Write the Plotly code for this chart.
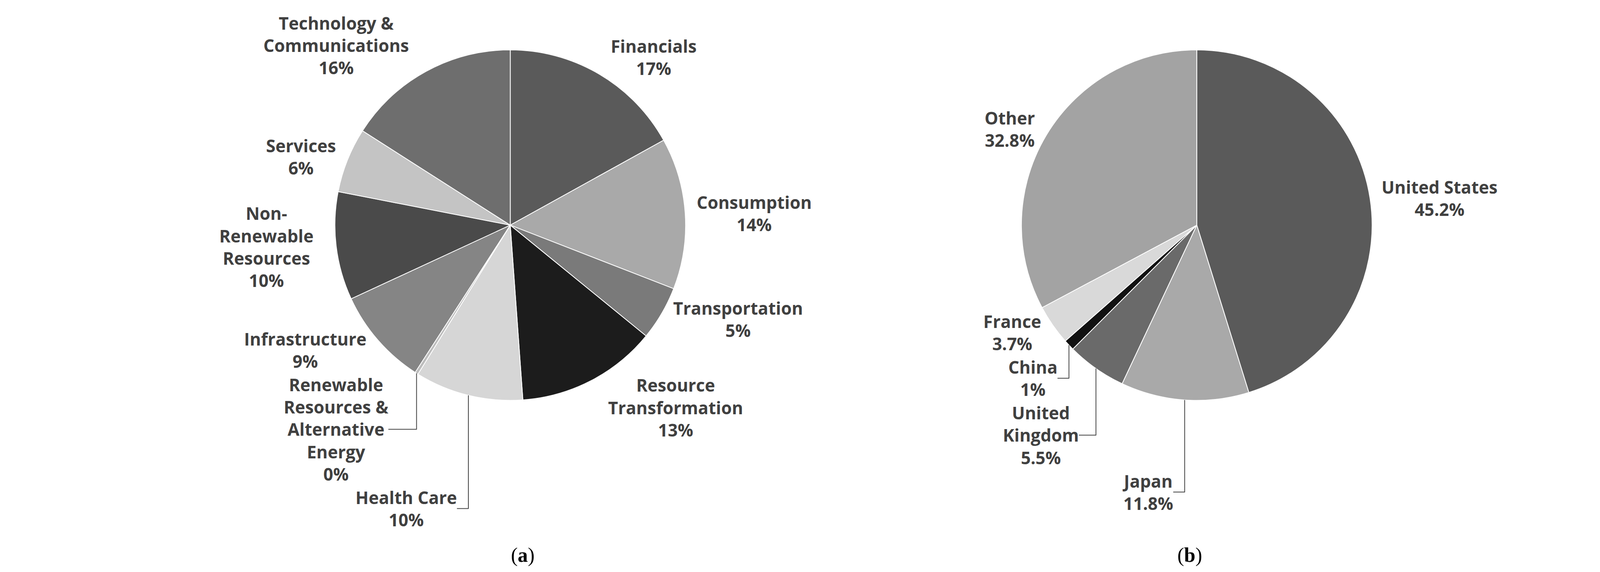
import plotly.graph_objects as go

# (a) sectors
sector_labels = ["Financials", "Consumption", "Transportation", "Resource<br>Transformation",
                 "Health Care", "Renewable<br>Resources &<br>Alternative<br>Energy", "Infrastructure",
                 "Non-<br>Renewable<br>Resources", "Services", "Technology &<br>Communications"]
sector_values = [17, 14, 5, 13, 10, 0.3, 9, 10, 6, 16]
sector_pct = ["17%", "14%", "5%", "13%", "10%", "0%", "9%", "10%", "6%", "16%"]
sector_colors = ["#5a5a5a", "#a9a9a9", "#7a7a7a", "#1c1c1c", "#d6d6d6",
                 "#bdbdbd", "#858585", "#4a4a4a", "#c4c4c4", "#6e6e6e"]

# (b) countries
country_labels = ["United States", "Japan", "United<br>Kingdom", "China", "France", "Other"]
country_values = [45.2, 11.8, 5.5, 1, 3.7, 32.8]
country_pct = ["45.2%", "11.8%", "5.5%", "1%", "3.7%", "32.8%"]
country_colors = ["#5a5a5a", "#a9a9a9", "#6a6a6a", "#111111", "#d9d9d9", "#a3a3a3"]

label_font = dict(family="Open Sans", size=44, color="#404040")

fig = go.Figure()
fig.add_trace(go.Pie(
    labels=sector_labels, values=sector_values,
    text=[f"<b>{l}<br>{p}</b>" for l, p in zip(sector_labels, sector_pct)],
    textinfo="text", textposition="outside", sort=False, direction="clockwise", rotation=0,
    marker=dict(colors=sector_colors, line=dict(color="#ffffff", width=2)),
    outsidetextfont=label_font, domain=dict(x=[0.03, 0.47], y=[0.3, 0.93]), showlegend=False,
))
fig.add_trace(go.Pie(
    labels=country_labels, values=country_values,
    text=[f"<b>{l}<br>{p}</b>" for l, p in zip(country_labels, country_pct)],
    textinfo="text", textposition="outside", sort=False, direction="clockwise", rotation=0,
    marker=dict(colors=country_colors, line=dict(color="#ffffff", width=2)),
    outsidetextfont=label_font, domain=dict(x=[0.58, 0.99], y=[0.3, 0.93]), showlegend=False,
))

fig.add_annotation(text="(<b>a</b>)", x=0.25, y=0.0, xref="paper", yref="paper", showarrow=False,
                   yanchor="bottom", font=dict(family="Liberation Serif", size=52, color="#000000"))
fig.add_annotation(text="(<b>b</b>)", x=0.79, y=0.0, xref="paper", yref="paper", showarrow=False,
                   yanchor="bottom", font=dict(family="Liberation Serif", size=52, color="#000000"))

fig.update_layout(width=4280, height=1465, paper_bgcolor="#ffffff",
                  margin=dict(l=20, r=20, t=20, b=20))
fig.write_html("out.html")
